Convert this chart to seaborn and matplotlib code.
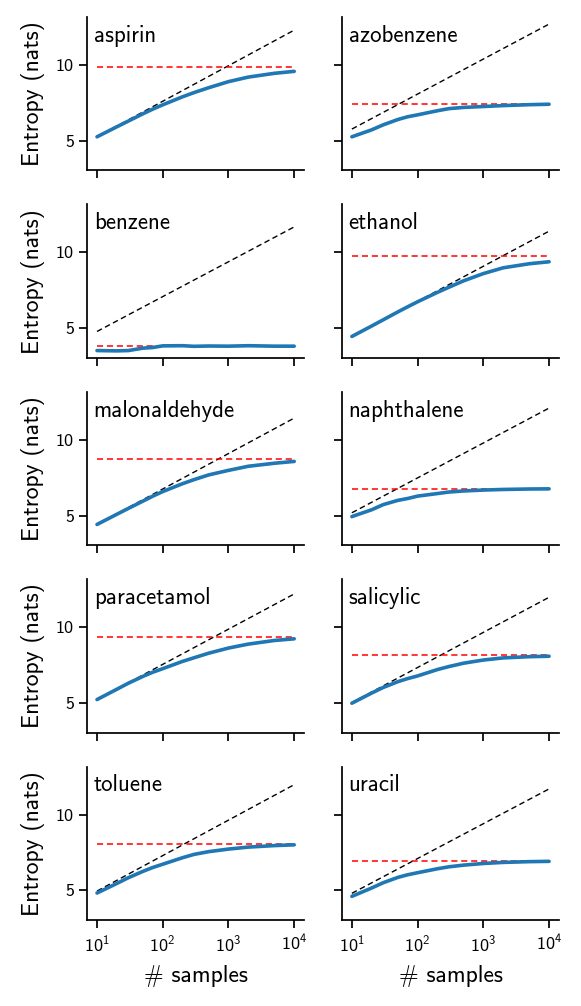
import numpy as np
import pandas as pd
import seaborn as sns
import matplotlib
matplotlib.use("Agg")
import matplotlib.pyplot as plt
from matplotlib.ticker import NullLocator

# молекулы и точки по числу выборок
molecules = ["aspirin", "azobenzene", "benzene", "ethanol", "malonaldehyde",
             "naphthalene", "paracetamol", "salicylic", "toluene", "uracil"]
n_samples = [10, 20, 30, 50, 70, 100, 200, 300, 500, 1000, 2000, 5000, 10000]

# оценка энтропии (синяя линия)
aspirin = [5.26, 5.92, 6.30, 6.78, 7.08, 7.37, 7.90, 8.18, 8.50, 8.90, 9.20, 9.45, 9.58]
azobenzene = [5.26, 5.72, 6.05, 6.40, 6.58, 6.71, 6.98, 7.12, 7.20, 7.26, 7.32, 7.38, 7.41]
benzene = [3.52, 3.50, 3.52, 3.68, 3.72, 3.83, 3.84, 3.80, 3.82, 3.81, 3.84, 3.81, 3.81]
ethanol = [4.45, 5.14, 5.55, 6.07, 6.40, 6.74, 7.36, 7.70, 8.12, 8.60, 8.98, 9.25, 9.38]
malonaldehyde = [4.41, 5.08, 5.47, 5.95, 6.27, 6.58, 7.10, 7.37, 7.68, 7.98, 8.25, 8.45, 8.57]
naphthalene = [4.93, 5.38, 5.72, 6.00, 6.12, 6.28, 6.45, 6.55, 6.62, 6.68, 6.72, 6.75, 6.76]
paracetamol = [5.22, 5.90, 6.30, 6.75, 7.02, 7.26, 7.74, 7.98, 8.28, 8.62, 8.88, 9.12, 9.23]
salicylic = [4.98, 5.65, 6.02, 6.40, 6.60, 6.78, 7.20, 7.40, 7.62, 7.83, 7.97, 8.05, 8.08]
toluene = [4.82, 5.45, 5.83, 6.25, 6.50, 6.72, 7.15, 7.37, 7.55, 7.72, 7.85, 7.95, 8.00]
uracil = [4.60, 5.15, 5.50, 5.85, 6.02, 6.16, 6.42, 6.55, 6.66, 6.77, 6.84, 6.89, 6.91]
curves = [aspirin, azobenzene, benzene, ethanol, malonaldehyde,
          naphthalene, paracetamol, salicylic, toluene, uracil]

# верхняя граница log(n) (чёрный пунктир) на концах: n=10 и n=10^4
bound_lo = [5.26, 5.77, 4.78, 4.45, 4.41, 5.18, 5.22, 5.02, 4.95, 4.80]
bound_hi = [12.30, 12.70, 11.68, 11.40, 11.43, 12.09, 12.19, 11.97, 11.97, 11.69]
bound_x = [10, 10000]

# эталонное значение (красный пунктир)
reference = [9.85, 7.41, 3.79, 9.74, 8.73, 6.76, 9.38, 8.14, 8.05, 6.91]

rows = []
for name, vals in zip(molecules, curves):
    for n, v in zip(n_samples, vals):
        rows.append({"molecule": name, "n": n, "entropy": v})
data = pd.DataFrame(rows)

sns.set_theme(style="ticks")
plt.rcParams["font.family"] = ["cmss10", "DejaVu Sans"]
plt.rcParams["mathtext.fontset"] = "custom"
plt.rcParams["mathtext.rm"] = "cmss10"
plt.rcParams["mathtext.it"] = "cmss10"
plt.rcParams["mathtext.default"] = "regular"
plt.rcParams["axes.unicode_minus"] = False
for key in ["text.color", "axes.labelcolor", "xtick.color", "ytick.color", "axes.edgecolor"]:
    plt.rcParams[key] = "black"

fig, axes = plt.subplots(5, 2, figsize=(5.81, 10.06), dpi=100, sharex=True, sharey=True)
fig.subplots_adjust(left=0.150, right=0.962, top=0.983, bottom=0.0855, wspace=0.175, hspace=0.222)

for i, (ax, name) in enumerate(zip(axes.flat, molecules)):
    ax.plot(bound_x, [bound_lo[i], bound_hi[i]], color="black", ls="--", lw=1.0, dashes=(4, 2.5))
    ax.plot(bound_x, [reference[i], reference[i]], color="red", ls="--", lw=1.1, dashes=(4, 2.5))
    sns.lineplot(data=data[data.molecule == name], x="n", y="entropy", ax=ax,
                 color="#1f77b4", lw=2.6)
    ax.set_xscale("log")
    ax.xaxis.set_minor_locator(NullLocator())
    ax.set_xticks([10, 100, 1000, 10000])
    ax.set_yticks([5, 10])
    ax.text(0.03, 0.95, name, transform=ax.transAxes, va="top", ha="left", fontsize=16.5)
    ax.set_xlabel("")
    ax.set_ylabel("")
    ax.tick_params(labelsize=13, length=6, width=1.25)
    sns.despine(ax=ax)

for ax in axes[:, 0]:
    ax.set_ylabel("Entropy (nats)", fontsize=17, labelpad=8)
for ax in axes[-1, :]:
    ax.set_xlabel("# samples", fontsize=17, labelpad=8)

fig.savefig("out.png", dpi=100)
